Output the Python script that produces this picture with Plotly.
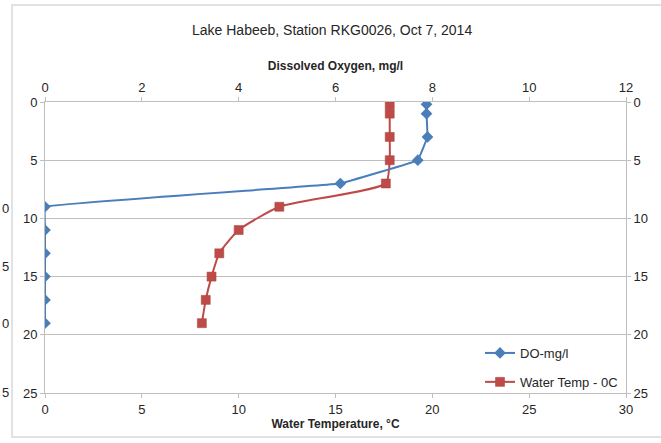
import plotly.graph_objects as go

# Depth profile, Lake Habeeb station RKG0026, Oct 7 2014
do_depth = [0.2, 1, 3, 5, 7, 9, 11, 13, 15, 17, 19]
do_mgl = [7.88, 7.88, 7.9, 7.7, 6.1, 0.0, 0.0, 0.0, 0.0, 0.0, 0.0]

temp_depth = [0.2, 1, 3, 5, 7, 9, 11, 13, 15, 17, 19]
temp_c = [17.8, 17.8, 17.8, 17.8, 17.6, 12.1, 10.0, 9.0, 8.6, 8.3, 8.1]

depth_ticks = [0, 5, 10, 15, 20, 25]
temp_ticks = [0, 5, 10, 15, 20, 25, 30]
do_ticks = [0, 2, 4, 6, 8, 10, 12]

W, H = 661, 443
ML, MR, MT, MB = 45, 35, 102, 50
PW, PH = W - ML - MR, H - MT - MB


def px_x(px):
    return (px - ML) / PW


def px_y(py):
    return (H - MB - py) / PH


FONT = "Liberation Sans Narrow, Arial Narrow, sans-serif"
BLUE = "#4A7EBB"
RED = "#BE4B48"
GRID = "#BFBFBF"
TXT = "#262626"

fig = go.Figure()

fig.add_trace(go.Scatter(
    x=do_mgl, y=do_depth, name="DO-mg/l", xaxis="x2", yaxis="y2",
    mode="lines+markers",
    line=dict(color=BLUE, width=2, shape="spline", smoothing=0.12),
    marker=dict(symbol="diamond", size=9, color=BLUE),
    legendgroup="do",
))
fig.add_trace(go.Scatter(
    x=temp_c, y=temp_depth, name="Water Temp - 0C", xaxis="x", yaxis="y",
    mode="lines+markers",
    line=dict(color=RED, width=2, shape="spline", smoothing=0.5),
    marker=dict(symbol="square", size=9, color=RED,
                line=dict(color="#A83E3B", width=0.5)),
    legendgroup="temp",
))

axis_font = dict(family=FONT, size=13, color=TXT)

fig.update_layout(
    width=W, height=H,
    margin=dict(l=ML, r=MR, t=MT, b=MB),
    paper_bgcolor="white", plot_bgcolor="white",
    font=dict(family=FONT, size=13, color=TXT),
    showlegend=True,
    legend=dict(
        x=px_x(480), y=px_y(338), xanchor="left", yanchor="top",
        bgcolor="rgba(0,0,0,0)", font=dict(family=FONT, size=13, color=TXT),
        tracegroupgap=9, itemwidth=30,
    ),
    xaxis=dict(
        range=[0, 30], tickvals=temp_ticks, showgrid=False, zeroline=False,
        showline=True, linecolor=GRID, linewidth=1,
        ticks="outside", ticklen=4, tickcolor=GRID, tickfont=axis_font,
        title=dict(text="<b>Water Temperature, °C</b>", font=dict(family=FONT, size=12, color=TXT),
                   standoff=4),
    ),
    xaxis2=dict(
        range=[0, 12], tickvals=do_ticks, overlaying="x", side="top", anchor="y",
        showgrid=False, zeroline=False, showline=True, linecolor=GRID,
        ticks="outside", ticklen=4, tickcolor=GRID, tickfont=axis_font,
        title=dict(text="<b>Dissolved Oxygen, mg/l</b>", font=dict(family=FONT, size=12, color=TXT),
                   standoff=6),
    ),
    yaxis=dict(
        range=[25, 0], tickvals=depth_ticks, showgrid=True, gridcolor=GRID, gridwidth=1,
        zeroline=False, showline=True, linecolor=GRID,
        ticks="outside", ticklen=4, tickcolor=GRID, tickfont=axis_font,
    ),
    yaxis2=dict(
        range=[25, 0], tickvals=depth_ticks, overlaying="y", side="right", anchor="x",
        showgrid=False, zeroline=False, showline=True, linecolor=GRID,
        ticks="outside", ticklen=4, tickcolor=GRID, tickfont=axis_font,
    ),
    annotations=[
        dict(text="Lake Habeeb, Station RKG0026, Oct 7, 2014", xref="paper", yref="paper",
             x=px_x(332), y=px_y(30), xanchor="center", yanchor="middle", showarrow=False,
             font=dict(family=FONT, size=14, color=TXT)),
    ],
    shapes=[
        dict(type="rect", xref="paper", yref="paper",
             x0=px_x(12), x1=px_x(668), y0=px_y(437), y1=px_y(5),
             line=dict(color="#D9D9D9", width=1.5), fillcolor="rgba(0,0,0,0)", layer="below"),
    ],
)

# Last digits of the neighbouring panel's depth labels, at the far left edge
for lbl, py in [("0", 208), ("5", 266), ("0", 323), ("5", 392)]:
    fig.add_annotation(text=lbl, xref="paper", yref="paper", x=px_x(0), y=px_y(py),
                       xanchor="left", yanchor="middle", showarrow=False,
                       font=dict(family=FONT, size=13, color=TXT))

fig.write_html("out.html")
